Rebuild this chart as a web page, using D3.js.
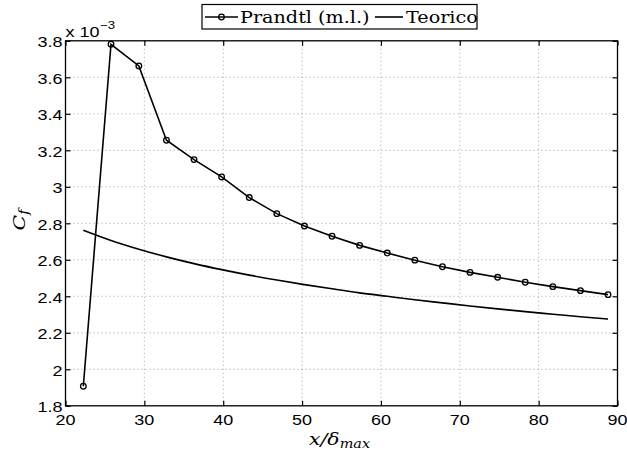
<!DOCTYPE html>
<html>
<head>
<meta charset="utf-8">
<script src="https://cdn.jsdelivr.net/npm/d3@7"></script>
<style>
  html, body { margin: 0; padding: 0; background: #fff; }
  svg { display: block; }
</style>
</head>
<body>
<svg id="chart" width="627" height="454"></svg>
<script>
// Skin-friction coefficient along the plate
const xPrandtl = [22.26, 25.77, 29.3, 32.8, 36.3, 39.8, 43.3, 46.8, 50.3, 53.8,
                  57.3, 60.8, 64.3, 67.8, 71.3, 74.8, 78.3, 81.8, 85.3, 88.8];
const cfPrandtl = [1.907e-3, 3.781e-3, 3.662e-3, 3.255e-3, 3.149e-3, 3.054e-3, 2.941e-3, 2.853e-3, 2.785e-3, 2.729e-3,
                   2.679e-3, 2.637e-3, 2.598e-3, 2.562e-3, 2.531e-3, 2.504e-3, 2.477e-3, 2.453e-3, 2.431e-3, 2.409e-3];
const xTeorico = xPrandtl;
const cfTeorico = [2.762e-3, 2.706e-3, 2.658e-3, 2.616e-3, 2.579e-3, 2.546e-3, 2.516e-3, 2.489e-3, 2.464e-3, 2.441e-3,
                   2.419e-3, 2.400e-3, 2.381e-3, 2.364e-3, 2.347e-3, 2.331e-3, 2.316e-3, 2.302e-3, 2.288e-3, 2.275e-3];
const xTicks = [20, 30, 40, 50, 60, 70, 80, 90];
const yTicks = [1.8e-3, 2.0e-3, 2.2e-3, 2.4e-3, 2.6e-3, 2.8e-3, 3.0e-3, 3.2e-3, 3.4e-3, 3.6e-3, 3.8e-3];
const seriesNames = ["Prandtl (m.l.)", "Teorico"];

const svg = d3.select("#chart");
const plotL = 65.5, plotR = 617.5, plotT = 40.8, plotB = 405.8;
const sx = 1.2; // horizontal stretch of the text glyphs

const x = d3.scaleLinear().domain([20, 90]).range([plotL, plotR]);
const y = d3.scaleLinear().domain([1.8e-3, 3.8e-3]).range([plotB, plotT]);
const fmtY = v => d3.format("~g")(+(v * 1e3).toFixed(1));

function label(g, px, py, txt, anchor) {
  return g.append("text")
    .attr("transform", `translate(${px},${py}) scale(${sx},1)`)
    .attr("text-anchor", anchor || "start")
    .text(txt);
}

// grid
const grid = svg.append("g").attr("stroke", "#a0a0a0").attr("stroke-width", 1)
  .attr("stroke-dasharray", "1,3");
xTicks.slice(1, -1).forEach(t => grid.append("line")
  .attr("x1", x(t)).attr("x2", x(t)).attr("y1", plotT).attr("y2", plotB));
yTicks.slice(1, -1).forEach(t => grid.append("line")
  .attr("x1", plotL).attr("x2", plotR).attr("y1", y(t)).attr("y2", y(t)));

// axes with inward ticks on all four sides
const tk = 5;
const axBottom = d3.axisBottom(x).tickValues(xTicks).tickSize(-tk).tickFormat("");
const axTop = d3.axisTop(x).tickValues(xTicks).tickSize(-tk).tickFormat("");
const axLeft = d3.axisLeft(y).tickValues(yTicks).tickSize(-tk).tickFormat("");
const axRight = d3.axisRight(y).tickValues(yTicks).tickSize(-tk).tickFormat("");
[[axBottom, `translate(0,${plotB})`], [axTop, `translate(0,${plotT})`],
 [axLeft, `translate(${plotL},0)`], [axRight, `translate(${plotR},0)`]].forEach(([ax, tr]) => {
  const g = svg.append("g").attr("transform", tr).call(ax);
  g.select(".domain").remove();
  g.selectAll("line").attr("stroke", "#000").attr("stroke-width", 1.2);
});
svg.append("rect").attr("x", plotL).attr("y", plotT)
  .attr("width", plotR - plotL).attr("height", plotB - plotT)
  .attr("fill", "none").attr("stroke", "#000").attr("stroke-width", 1.3);

// tick labels
const tl = svg.append("g").attr("font-family", "'Liberation Sans', Arial, sans-serif")
  .attr("font-size", 15).attr("fill", "#000");
xTicks.forEach(t => label(tl, x(t), plotB + 19.5, String(t), "middle"));
yTicks.forEach(t => label(tl, plotL - 3, y(t) + 6.5, fmtY(t), "end"));

// exponent
label(tl, plotL, 36.5, "x 10");
label(tl, plotL + 34.5, 29, "\u22123").attr("font-size", 11);

// series
const line = d3.line().x(d => x(d[0])).y(d => y(d[1]));
const pData = xPrandtl.map((v, i) => [v, cfPrandtl[i]]);
const tData = xTeorico.map((v, i) => [v, cfTeorico[i]]);
svg.append("path").datum(tData).attr("d", line.curve(d3.curveMonotoneX))
  .attr("fill", "none").attr("stroke", "#000").attr("stroke-width", 1.6);
svg.append("path").datum(pData).attr("d", line.curve(d3.curveLinear))
  .attr("fill", "none").attr("stroke", "#000").attr("stroke-width", 1.6);
svg.append("g").selectAll("circle").data(pData).join("circle")
  .attr("cx", d => x(d[0])).attr("cy", d => y(d[1])).attr("r", 2.8)
  .attr("fill", "none").attr("stroke", "#000").attr("stroke-width", 1.3);

// axis titles
const serif = "'DejaVu Serif', 'Liberation Serif', serif";
const xt = svg.append("text")
  .attr("transform", `translate(${(plotL + plotR) / 2 - 2},445) scale(${sx},1)`)
  .attr("text-anchor", "middle").attr("font-family", serif).attr("font-style", "italic")
  .attr("font-size", 17);
xt.append("tspan").text("x/\u03b4");
xt.append("tspan").attr("font-size", 12).attr("dy", 2.5).text("max");

const yt = svg.append("text")
  .attr("transform", `translate(25,220) rotate(-90) scale(${sx},1)`)
  .attr("text-anchor", "middle").attr("font-family", serif).attr("font-style", "italic")
  .attr("font-size", 17);
yt.append("tspan").text("C");
yt.append("tspan").attr("font-size", 12).attr("dy", 2.5).text("f");

// legend
const lg = svg.append("g");
lg.append("rect").attr("x", 202).attr("y", 4.5).attr("width", 275).attr("height", 24.5)
  .attr("fill", "#fff").attr("stroke", "#000").attr("stroke-width", 1.2);
lg.append("line").attr("x1", 205).attr("x2", 238).attr("y1", 17).attr("y2", 17)
  .attr("stroke", "#000").attr("stroke-width", 1.6);
lg.append("circle").attr("cx", 221.5).attr("cy", 17).attr("r", 2.8)
  .attr("fill", "none").attr("stroke", "#000").attr("stroke-width", 1.3);
lg.append("line").attr("x1", 375).attr("x2", 403).attr("y1", 17).attr("y2", 17)
  .attr("stroke", "#000").attr("stroke-width", 1.6);
const lt = lg.append("g").attr("font-family", serif).attr("font-size", 16);
label(lt, 240, 22.5, seriesNames[0]);
label(lt, 406, 22.5, seriesNames[1]);
</script>
</body>
</html>
